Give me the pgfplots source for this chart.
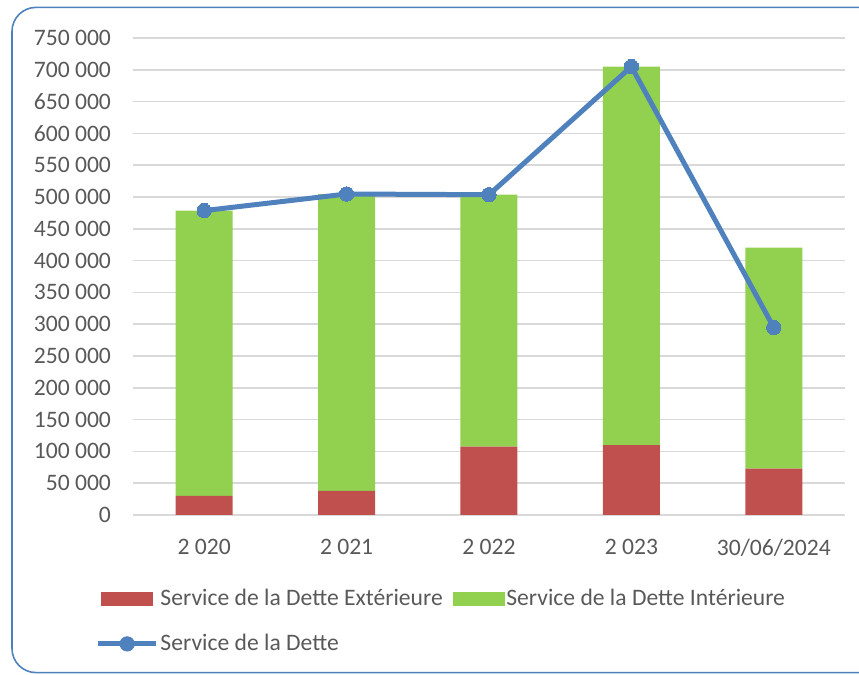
\documentclass[border=0pt]{standalone}
\usepackage{pgfplots}
\pgfplotsset{compat=1.18}
\usepackage{fontspec}
\setmainfont{Carlito}
\definecolor{cRed}{HTML}{C0504D}
\definecolor{cGreen}{HTML}{92D050}
\definecolor{cBlue}{HTML}{4F81BD}
\definecolor{cGrid}{HTML}{D9D9D9}
\definecolor{cText}{HTML}{595959}
\begin{document}
\begin{tikzpicture}
\useasboundingbox (0pt,0pt) rectangle (429.5pt,337.5pt);
\draw[cBlue, line width=0.8pt, rounded corners=12pt] (6pt,1.2pt) rectangle (445pt,333.8pt);
\pgfplotsset{
  common/.style={
    at={(66.5pt,80pt)}, anchor=south west,
    scale only axis, width=356pt, height=238.5pt,
    xmin=-0.5, xmax=4.5, ymin=0, ymax=750000,
  }
}
\begin{axis}[common,
  ybar stacked, bar width=28.5pt,
  axis x line*=bottom, axis y line*=left,
  x axis line style={cGrid, line width=0.8pt},
  y axis line style={draw=none},
  ymajorgrids, grid style={cGrid, line width=0.8pt},
  ytick={0,50000,...,750000},
  xtick={0,1,2,3,4},
  xticklabels={2 020, 2 021, 2 022, 2 023, 30/06/2024},
  major tick length=0pt,
  scaled y ticks=false,
  /pgf/number format/.cd, fixed, precision=0, 1000 sep={\ }, assume math mode=true,
  /pgfplots/.cd,
  ticklabel style={font=\fontsize{11.8}{14}\selectfont, text=cText},
  yticklabel style={xshift=-7.5pt},
  xticklabel style={yshift=-8.5pt},
  legend style={draw=none, fill=none, at={(-0.053,-0.151)}, anchor=north west,
    font=\fontsize{11.8}{14}\selectfont, text=cText, inner sep=0pt,
    column sep=0pt, row sep=11pt,
    nodes={inner sep=0.9pt}},
  legend columns=2,
  legend cell align=left,
]
\addplot[fill=cRed, draw=none,
  legend image code/.code={\path[fill=cRed] (0pt,-3.5pt) rectangle (26pt,3.5pt);}]
  coordinates {(0,30200) (1,38100) (2,107400) (3,110000) (4,73000)};
\addlegendentry{Service de la Dette Extérieure\hspace*{4pt}\mbox{}}
\addplot[fill=cGreen, draw=none,
  legend image code/.code={\path[fill=cGreen] (0pt,-3.5pt) rectangle (26pt,3.5pt);}]
  coordinates {(0,448400) (1,466600) (2,396200) (3,595000) (4,347600)};
\addlegendentry{Service de la Dette Intérieure}
\addlegendimage{legend image code/.code={\draw[cBlue, line width=2.5pt] (-1.5pt,0pt) -- (27.5pt,0pt); \fill[cBlue] (13pt,0pt) circle (3.6pt);}}
\addlegendentry{Service de la Dette}
\end{axis}
\begin{axis}[common, axis lines=none, ticks=none]
\addplot[cBlue, line width=2.5pt, mark=*, mark size=3.6pt, mark options={fill=cBlue, draw=cBlue, line width=0pt}]
  coordinates {(0,478600) (1,504700) (2,503600) (3,705000) (4,294800)};
\end{axis}
\end{tikzpicture}
\end{document}
